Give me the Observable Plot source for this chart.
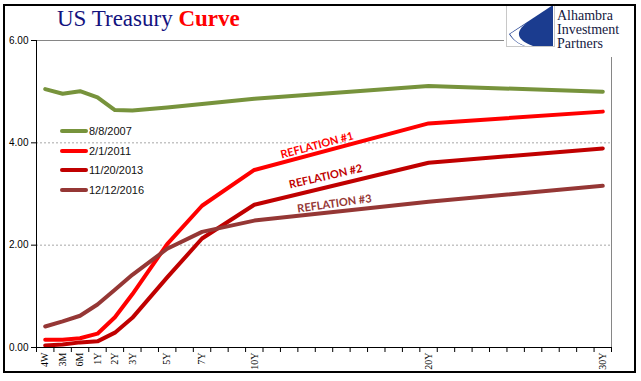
<!DOCTYPE html>
<html>
<head>
<meta charset="utf-8">
<script src="https://cdn.jsdelivr.net/npm/d3@7"></script>
<script src="https://cdn.jsdelivr.net/npm/@observablehq/plot@0.6"></script>
<style>
  html, body { margin: 0; padding: 0; background: #fff; }
  #wrap { position: relative; width: 641px; height: 381px; overflow: hidden; }
  #frame { position: absolute; left: 3px; top: 4px; width: 629px; height: 365px; border: 2px solid #000; pointer-events: none; }
  #chart { position: absolute; left: 0; top: 0; }
  #title { position: absolute; left: 57px; top: 7px; font-family: "Liberation Serif", "Times New Roman", serif; font-size: 23px; line-height: 23px; color: #12127E; white-space: nowrap; }
  #title b { color: #FF0000; }
  #logo { position: absolute; left: 504px; top: 3px; width: 128px; height: 54px; background: #fff; }
  #logo .txt { position: absolute; left: 53px; top: 6px; font-family: "Liberation Serif", "Times New Roman", serif; font-size: 14px; line-height: 14px; color: #15193F; white-space: nowrap; }
  #legend { position: absolute; left: 60px; top: 121px; font-family: "Liberation Sans", Arial, sans-serif; font-size: 11px; color: #111; }
  #legend .row { height: 19.7px; display: flex; align-items: center; }
  #legend .sw { width: 28px; height: 4px; border-radius: 2px; margin-right: 1px; }
</style>
</head>
<body>
<div id="wrap">
  <div id="chart"></div>
  <div id="title">US Treasury <b>Curve</b></div>
  <div id="logo">
    <svg width="52" height="46" style="position:absolute;left:0;top:0">
      <rect x="2.5" y="1.5" width="48" height="42" fill="#fff" stroke="#c8c8c8" stroke-width="1"/>
      <path d="M49,2 L5,31 C9,37 14,41 21,43 L49,43 Z" fill="#1B3C8F"/>
      <path d="M23,20 C11,28 12,37 29,43 L21,43 C13,40 9,36 6,31 Z" fill="#fff"/>
    </svg>
    <div class="txt">Alhambra<br>Investment<br>Partners</div>
  </div>
  <div id="legend"></div>
  <div id="frame"></div>
</div>
<script>
// Maturities and their slot on Excel's 33-slot category axis
const maturities = ["4W", "3M", "6M", "1Y", "2Y", "3Y", "5Y", "7Y", "10Y", "20Y", "30Y"];
const maturitySlots = [0, 1, 2, 3, 4, 5, 7, 9, 12, 22, 32];
const slotCount = 33;

const seriesNames = ["8/8/2007", "2/1/2011", "11/20/2013", "12/12/2016"];
const seriesColors = ["#77933C", "#FF0000", "#C00000", "#953735"];

const yields2007 = [5.05, 4.96, 5.01, 4.89, 4.64, 4.63, 4.69, 4.76, 4.86, 5.11, 5.00];
const yields2011 = [0.15, 0.15, 0.18, 0.27, 0.59, 1.04, 2.02, 2.77, 3.47, 4.38, 4.61];
const yields2013 = [0.04, 0.06, 0.10, 0.12, 0.29, 0.58, 1.37, 2.13, 2.79, 3.61, 3.89];
const yields2016 = [0.41, 0.51, 0.62, 0.84, 1.13, 1.42, 1.93, 2.26, 2.48, 2.85, 3.16];

const yTicks = [0, 2, 4, 6];

const annoLabels = ["REFLATION #1", "REFLATION #2", "REFLATION #3"];
const annoSlots = [15.6, 16.1, 16.6];
const annoValues = [3.95, 3.34, 2.81];
const annoAngles = [-15, -13, -8];
const annoColors = ["#FF0000", "#C00000", "#953735"];

const allYields = [yields2007, yields2011, yields2013, yields2016];
const lineMarks = allYields.map((ys, s) =>
  Plot.line(ys.map((v, i) => ({slot: maturitySlots[i], value: v})), {
    x: "slot", y: "value", stroke: seriesColors[s], strokeWidth: 4,
    strokeLinejoin: "round", strokeLinecap: "round"
  })
);

const annos = annoLabels.map((t, i) => ({t, slot: annoSlots[i], value: annoValues[i], angle: annoAngles[i], color: annoColors[i]}));
const annoMarks = annos.map(a =>
  Plot.text([a], {x: "slot", y: "value", text: "t", rotate: a.angle, fill: a.color,
    fontFamily: "Lato, 'Open Sans', sans-serif", fontWeight: "bold", fontSize: 11})
);

const boundaries = d3.range(slotCount + 1).map(i => i - 0.5);
const labelOf = new Map(maturitySlots.map((s, i) => [s, maturities[i]]));

const chart = Plot.plot({
  width: 641, height: 381,
  marginLeft: 36, marginRight: 30, marginTop: 40, marginBottom: 34,
  style: {background: "transparent"},
  x: {domain: [-0.5, slotCount - 0.5], axis: null},
  y: {domain: [0, 6], axis: null},
  marks: [
    Plot.ruleY([2, 4], {stroke: "#a8a8a8", strokeDasharray: "2,2", strokeWidth: 1}),
    Plot.ruleY([6], {stroke: "#868686", strokeWidth: 1}),
    Plot.ruleX([slotCount - 0.5], {stroke: "#868686", strokeWidth: 1}),
    ...lineMarks,
    ...annoMarks,
    Plot.axisY({ticks: yTicks, tickFormat: d => d.toFixed(2), tickSize: 5, tickPadding: 3, label: null,
      fontFamily: "'Liberation Sans', Arial, sans-serif", fontSize: 10, color: "#000"}),
    Plot.axisX({ticks: boundaries, tickFormat: () => "", tickSize: 5, label: null, color: "#000"}),
    Plot.axisX({ticks: maturitySlots, tickFormat: d => labelOf.get(d), tickSize: 0, tickPadding: 5, label: null,
      tickRotate: -90, fontFamily: "'Liberation Serif', 'Times New Roman', serif", fontSize: 10, color: "#000"}),
    Plot.ruleX([-0.5], {stroke: "#000", strokeWidth: 1}),
    Plot.ruleY([0], {stroke: "#000", strokeWidth: 1})
  ]
});
document.getElementById("chart").appendChild(chart);

const legend = document.getElementById("legend");
seriesNames.forEach((n, i) => {
  const row = document.createElement("div");
  row.className = "row";
  const sw = document.createElement("span");
  sw.className = "sw";
  sw.style.background = seriesColors[i];
  const tx = document.createElement("span");
  tx.textContent = n;
  row.appendChild(sw); row.appendChild(tx);
  legend.appendChild(row);
});
</script>
</body>
</html>
